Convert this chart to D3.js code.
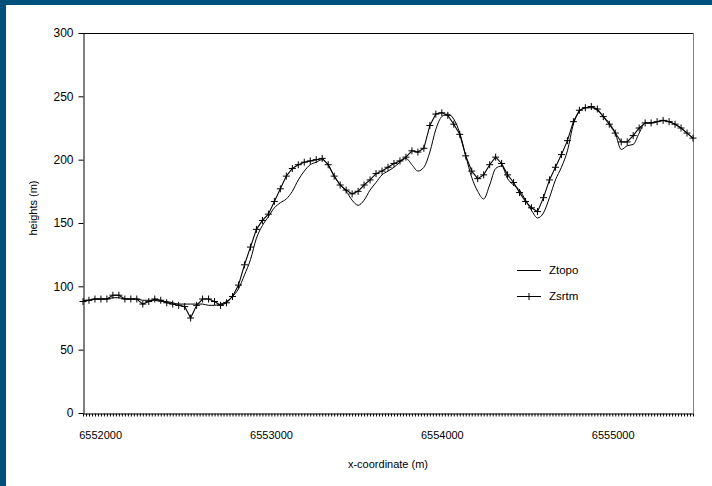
<!DOCTYPE html>
<meta charset="utf-8">
<head>
<script src="https://d3js.org/d3.v7.min.js"></script>
<style type="text/css">
  body { margin: 0; background: #fff; }
  svg text { font-family: "Liberation Sans", Arial, sans-serif; fill: #000; }
</style>
<title>Ztopo vs Zsrtm</title>
</head>
<body>
<div id="my_dataviz"></div>
<script>

// sample positions along the profile (m), every 35 m
var xCoord = d3.range(6551900, 6555471, 35);

// heights (m)
var zTopo = [89, 89, 90, 90, 90, 91, 91, 90, 90, 90,
  89, 89, 89, 88, 88, 87, 86, 86, 86, 86,
  86, 85, 85, 86, 88, 92, 98, 109, 121, 138,
  148, 155, 162, 166, 169, 175, 184, 191, 196, 198,
  200, 196, 187, 180, 175, 168, 164, 168, 176, 182,
  188, 191, 194, 198, 201, 196, 191, 194, 206, 224,
  234, 236, 232, 221, 203, 186, 175, 169, 180, 193,
  195, 185, 180, 176, 168, 160, 154, 158, 170, 184,
  194, 207, 228, 238, 241, 241, 239, 234, 229, 221,
  208, 211, 212, 221, 229, 229, 230, 231, 230, 228,
  225, 221, 217];

var zSrtm = [88, 89, 90, 90, 90, 93, 93, 90, 90, 90,
  86, 88, 90, 89, 87, 86, 85, 84, 75, 85,
  90, 90, 88, 85, 87, 92, 101, 117, 131, 145,
  152, 157, 167, 177, 187, 193, 196, 198, 199, 200,
  201, 196, 187, 180, 176, 173, 175, 180, 184, 189,
  191, 194, 197, 199, 202, 207, 206, 209, 227, 236,
  237, 235, 228, 220, 203, 191, 185, 188, 196, 202,
  197, 188, 182, 174, 167, 162, 159, 170, 184, 194,
  204, 215, 230, 239, 241, 242, 240, 234, 228, 221,
  214, 214, 219, 225, 229, 229, 230, 231, 230, 228,
  225, 221, 217];

var yTicks = [0, 50, 100, 150, 200, 250, 300];
var xLabels = [6552000, 6553000, 6554000, 6555000];
var xMinor = d3.range(6551900, 6555471, 17.5);
var seriesNames = ["Ztopo", "Zsrtm"];

var W = 712, H = 486;
var margin = {top: 33, right: 19, bottom: 73, left: 83},
    width = W - margin.left - margin.right,
    height = H - margin.top - margin.bottom;

var root = d3.select("#my_dataviz")
  .append("svg")
    .attr("width", W)
    .attr("height", H);

// dark blue frame on top and left
root.append("rect").attr("x", 0).attr("y", 0).attr("width", W).attr("height", 5).attr("fill", "#00507c");
root.append("rect").attr("x", 0).attr("y", 0).attr("width", 6).attr("height", H).attr("fill", "#00507c");

var svg = root.append("g")
  .attr("transform", "translate(" + margin.left + "," + margin.top + ")");

var x = d3.scaleLinear()
  .domain([xCoord[0], xCoord[xCoord.length - 1]])
  .range([0, width]);

var y = d3.scaleLinear()
  .domain([0, 300])
  .range([height, 0]);

// plot frame (top black, right grey)
svg.append("line").attr("x1", 0).attr("x2", width).attr("y1", 0.5).attr("y2", 0.5)
  .attr("stroke", "#000");
svg.append("line").attr("x1", width + 0.5).attr("x2", width + 0.5).attr("y1", 0).attr("y2", height)
  .attr("stroke", "#808080");

// Y axis
var yAxis = svg.append("g")
  .attr("transform", "translate(0.5,0)")
  .call(d3.axisLeft(y).tickValues(yTicks).tickSize(5).tickSizeOuter(0).tickPadding(5));
yAxis.selectAll("text").style("font-size", "12px");

// X axis: minor ticks
var xAxis = svg.append("g")
  .attr("transform", "translate(0," + (height + 0.5) + ")")
  .call(d3.axisBottom(x).tickValues(xMinor).tickSize(3).tickSizeOuter(0).tickFormat(""));

// X axis labels
var xLab = svg.append("g")
  .attr("transform", "translate(0," + (height + 0.5) + ")")
  .call(d3.axisBottom(x).tickValues(xLabels).tickSize(0).tickPadding(18).tickFormat(d3.format("d")));
xLab.select(".domain").remove();
xLab.selectAll("text").style("font-size", "11px");

svg.selectAll(".domain").attr("stroke", "#000");
svg.selectAll(".tick line").attr("stroke", "#000");

// axis titles
svg.append("text")
  .attr("x", width / 2)
  .attr("y", height + 55)
  .attr("text-anchor", "middle")
  .style("font-size", "11px")
  .text("x-coordinate (m)");

svg.append("text")
  .attr("transform", "translate(" + (33 - margin.left) + "," + (208 - margin.top) + ") rotate(-90)")
  .attr("text-anchor", "middle")
  .attr("dy", "0.35em")
  .style("font-size", "11px")
  .text("heights (m)");

// Ztopo line
svg.append("path")
  .datum(zTopo)
  .attr("fill", "none")
  .attr("stroke", "#000")
  .attr("stroke-width", 1)
  .attr("d", d3.line()
    .x(function(d, i) { return x(xCoord[i]) })
    .y(function(d) { return y(d) })
    .curve(d3.curveMonotoneX));

// Zsrtm line
svg.append("path")
  .datum(zSrtm)
  .attr("fill", "none")
  .attr("stroke", "#000")
  .attr("stroke-width", 1.1)
  .attr("d", d3.line()
    .x(function(d, i) { return x(xCoord[i]) })
    .y(function(d) { return y(d) }));

// Zsrtm + markers
var cross = "M-3.5,0H3.5M0,-3.5V3.5";
svg.append("g")
  .selectAll("path")
  .data(zSrtm)
  .enter()
  .append("path")
    .attr("d", cross)
    .attr("transform", function(d, i) { return "translate(" + x(xCoord[i]) + "," + y(d) + ")" })
    .attr("stroke", "#000")
    .attr("stroke-width", 1);

// legend
var legend = root.append("g").attr("transform", "translate(517,270)");
seriesNames.forEach(function(name, i) {
  var g = legend.append("g").attr("transform", "translate(0," + (i * 26) + ")");
  g.append("line").attr("x1", 0).attr("x2", 24).attr("y1", 0.5).attr("y2", 0.5)
    .attr("stroke", "#000").attr("stroke-width", 1);
  if (i === 1) {
    g.append("path").attr("d", cross).attr("transform", "translate(12,0.5)")
      .attr("stroke", "#000");
  }
  g.append("text")
    .attr("x", 32)
    .attr("y", 0)
    .attr("dy", "0.35em")
    .style("font-size", "11.5px")
    .text(name);
});

</script>
</body>
</html>
